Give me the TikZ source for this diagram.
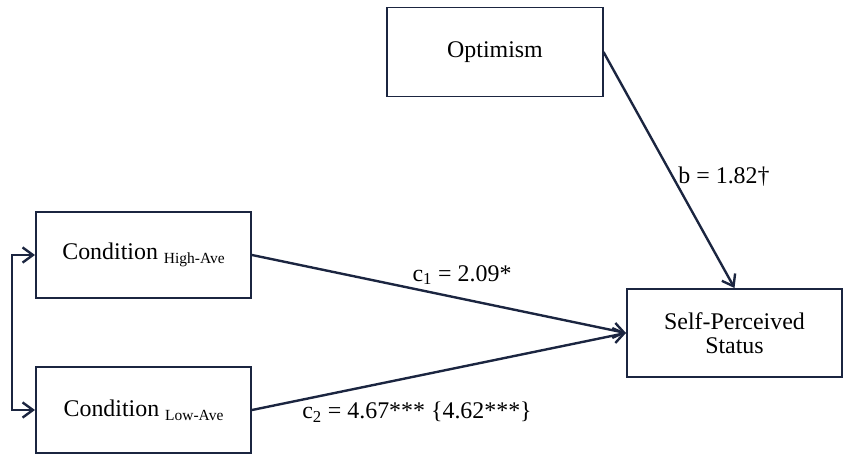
\documentclass[tikz,border=0pt]{standalone}
\usepackage{fontspec}
\setmainfont{Liberation Serif}
\usepackage{xcolor}
\usepackage{tikz}
\usetikzlibrary{arrows.meta,positioning}
\definecolor{pathnavy}{HTML}{1B2540}
\tikzset{
  varbox/.style={draw=pathnavy,line width=1.4pt,fill=white,align=center,
    minimum width=5.375cm,minimum height=2.2cm,font=\fontsize{17}{19}\selectfont},
  patharrow/.style={-{Straight Barb[length=2.6mm,width=3.8mm]},draw=pathnavy,line width=1.7pt},
  coeflabel/.style={font=\fontsize{17}{19}\selectfont,inner sep=1pt}
}
\newcommand{\condsub}[1]{{\fontsize{11}{12}\selectfont\raisebox{-0.55ex}{#1}}}

\begin{document}
\begin{tikzpicture}[x=0.025cm,y=-0.025cm]
  \useasboundingbox (0,0) rectangle (843,455);
  \node[varbox,minimum height=2.225cm] (opt) at (495,52) {Optimism};
  \node[varbox,minimum height=2.15cm] (hi) at (143.5,255) {Condition \condsub{High-Ave}};
  \node[varbox,minimum height=2.15cm] (lo) at (143.5,410) {Condition \condsub{Low-Ave}};
  \node[varbox] (sps) at (734.5,333) {Self-Perceived\\[-2pt]Status};
  \draw[patharrow] (opt.east) -- (sps.north);
  \draw[patharrow] (hi.east) -- (sps.west);
  \draw[patharrow] (lo.east) -- (sps.west);
  \draw[patharrow,{Straight Barb[length=2.6mm,width=3.8mm]}-{Straight Barb[length=2.6mm,width=3.8mm]}]
    (hi.west) -- ++(-23,0) |- (lo.west);
  \node[coeflabel] (c1) at (462,275) {c\textsubscript{1} = 2.09*};
  \node[coeflabel] (bcoef) at (724,177) {b = 1.82†};
  \node[coeflabel] (c2) at (417,412) {c\textsubscript{2} = 4.67*** \{4.62***\}};
\end{tikzpicture}
\end{document}
